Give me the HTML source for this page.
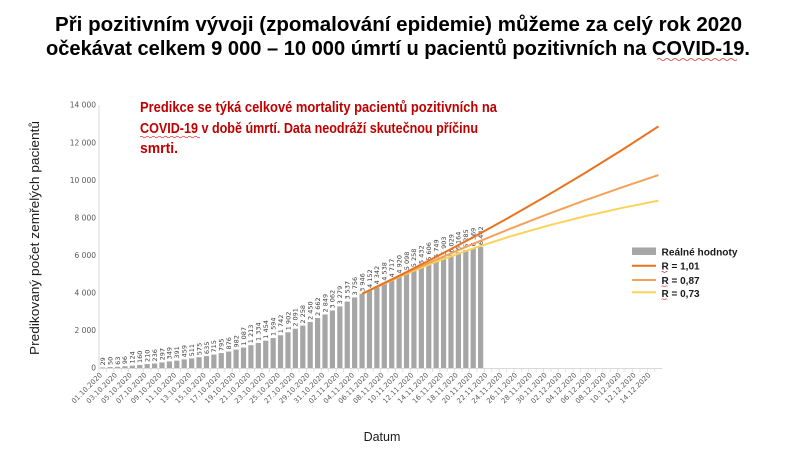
<!DOCTYPE html>
<html>
<head>
<meta charset="utf-8">
<style>
  html,body{margin:0;padding:0;background:#fff;}
  svg{display:block;}
  .tk{font-family:"DejaVu Sans",sans-serif;font-size:7.5px;fill:#595959;}
  .xl{font-family:"DejaVu Sans",sans-serif;font-size:7px;fill:#595959;}
  .dl{font-family:"DejaVu Sans",sans-serif;font-size:6.5px;fill:#404040;}
  .tt{font-family:"Liberation Sans",sans-serif;font-weight:bold;font-size:20px;fill:#000;}
  .rd{font-family:"Liberation Sans",sans-serif;font-weight:bold;font-size:14.5px;fill:#C00000;}
  .lg{font-family:"Liberation Sans",sans-serif;font-weight:bold;font-size:10px;fill:#1a1a1a;}
  .ax{font-family:"Liberation Sans",sans-serif;font-size:12.5px;fill:#1a1a1a;}
</style>
</head>
<body>
<svg width="800" height="450" viewBox="0 0 800 450" xmlns="http://www.w3.org/2000/svg">
<rect width="800" height="450" fill="#fff"/>

<!-- Title -->
<text class="tt" x="55" y="31" textLength="687" lengthAdjust="spacingAndGlyphs">Při pozitivním vývoji (zpomalování epidemie) můžeme za celý rok 2020</text>
<text class="tt" x="46" y="55" textLength="704" lengthAdjust="spacingAndGlyphs">očekávat celkem 9 000 – 10 000 úmrtí u pacientů pozitivních na COVID-19.</text>
<path d="M657,59.5 q2,-2 4,0 t4,0 t4,0 t4,0 t4,0 t4,0 t4,0 t4,0 t4,0 t4,0 t4,0 t4,0 t4,0 t4,0 t4,0 t4,0 t4,0 t4,0 t4,0 t4,0" fill="none" stroke="#d33" stroke-width="0.8"/>

<!-- Red note -->
<text class="rd" x="140" y="112" textLength="357" lengthAdjust="spacingAndGlyphs">Predikce se týká celkové mortality pacientů pozitivních na</text>
<text class="rd" x="140" y="133" textLength="338" lengthAdjust="spacingAndGlyphs">COVID-19 v době úmrtí. Data neodráží skutečnou příčinu</text>
<text class="rd" x="140" y="153" textLength="38" lengthAdjust="spacingAndGlyphs">smrti.</text>
<path d="M140,137 q1.5,-1.5 3,0 t3,0 t3,0 t3,0 t3,0 t3,0 t3,0 t3,0 t3,0 t3,0 t3,0 t3,0 t3,0 t3,0 t3,0 t3,0 t3,0 t3,0 t3,0 t3,0" fill="none" stroke="#d33" stroke-width="0.7"/>

<!-- Axes -->
<line x1="99" y1="105" x2="99" y2="368" stroke="#d9d9d9" stroke-width="1"/>
<line x1="99" y1="368.5" x2="662" y2="368.5" stroke="#d9d9d9" stroke-width="1"/>
<path stroke="#d9d9d9" stroke-width="0.8" fill="none" d="M99,368v4m7.41,-4v4m7.41,-4v4m7.41,-4v4m7.41,-4v4m7.41,-4v4m7.41,-4v4m7.41,-4v4m7.41,-4v4m7.41,-4v4m7.41,-4v4m7.41,-4v4m7.41,-4v4m7.41,-4v4m7.41,-4v4m7.41,-4v4m7.41,-4v4m7.41,-4v4m7.41,-4v4m7.41,-4v4m7.41,-4v4m7.41,-4v4m7.41,-4v4m7.41,-4v4m7.41,-4v4m7.41,-4v4m7.41,-4v4m7.41,-4v4m7.41,-4v4m7.41,-4v4m7.41,-4v4m7.41,-4v4m7.41,-4v4m7.41,-4v4m7.41,-4v4m7.41,-4v4m7.41,-4v4m7.41,-4v4m7.41,-4v4m7.41,-4v4m7.41,-4v4m7.41,-4v4m7.41,-4v4m7.41,-4v4m7.41,-4v4m7.41,-4v4m7.41,-4v4m7.41,-4v4m7.41,-4v4m7.41,-4v4m7.41,-4v4m7.41,-4v4m7.41,-4v4m7.41,-4v4m7.41,-4v4m7.41,-4v4m7.41,-4v4m7.41,-4v4m7.41,-4v4m7.41,-4v4m7.41,-4v4m7.41,-4v4m7.41,-4v4m7.41,-4v4m7.41,-4v4m7.41,-4v4m7.41,-4v4m7.41,-4v4m7.41,-4v4m7.41,-4v4m7.41,-4v4m7.41,-4v4m7.41,-4v4m7.41,-4v4m7.41,-4v4m7.41,-4v4"/>

<!-- Y tick labels -->
<g class="tk" text-anchor="end">
<text x="96" y="370.7">0</text>
<text x="96" y="333.1">2 000</text>
<text x="96" y="295.6">4 000</text>
<text x="96" y="258.0">6 000</text>
<text x="96" y="220.4">8 000</text>
<text x="96" y="182.8">10 000</text>
<text x="96" y="145.3">12 000</text>
<text x="96" y="107.7">14 000</text>
</g>

<!-- Axis titles -->
<text class="ax" transform="translate(39,238) rotate(-90)" text-anchor="middle" textLength="234" lengthAdjust="spacingAndGlyphs">Predikovaný počet zemřelých pacientů</text>
<text class="ax" x="382" y="441" text-anchor="middle">Datum</text>

<!-- Bars (data units) -->
<g transform="translate(0,368) scale(1,-0.018786)" fill="#A6A6A6">
<rect x="100.11" y="0" width="5.2" height="29"/>
<rect x="107.52" y="0" width="5.2" height="50"/>
<rect x="114.93" y="0" width="5.2" height="63"/>
<rect x="122.34" y="0" width="5.2" height="96"/>
<rect x="129.75" y="0" width="5.2" height="124"/>
<rect x="137.16" y="0" width="5.2" height="160"/>
<rect x="144.57" y="0" width="5.2" height="210"/>
<rect x="151.98" y="0" width="5.2" height="236"/>
<rect x="159.39" y="0" width="5.2" height="297"/>
<rect x="166.80" y="0" width="5.2" height="349"/>
<rect x="174.21" y="0" width="5.2" height="391"/>
<rect x="181.62" y="0" width="5.2" height="459"/>
<rect x="189.03" y="0" width="5.2" height="511"/>
<rect x="196.44" y="0" width="5.2" height="575"/>
<rect x="203.85" y="0" width="5.2" height="635"/>
<rect x="211.26" y="0" width="5.2" height="715"/>
<rect x="218.67" y="0" width="5.2" height="795"/>
<rect x="226.08" y="0" width="5.2" height="876"/>
<rect x="233.49" y="0" width="5.2" height="982"/>
<rect x="240.90" y="0" width="5.2" height="1087"/>
<rect x="248.31" y="0" width="5.2" height="1213"/>
<rect x="255.72" y="0" width="5.2" height="1334"/>
<rect x="263.13" y="0" width="5.2" height="1454"/>
<rect x="270.54" y="0" width="5.2" height="1594"/>
<rect x="277.95" y="0" width="5.2" height="1742"/>
<rect x="285.36" y="0" width="5.2" height="1902"/>
<rect x="292.77" y="0" width="5.2" height="2091"/>
<rect x="300.18" y="0" width="5.2" height="2258"/>
<rect x="307.59" y="0" width="5.2" height="2450"/>
<rect x="315.00" y="0" width="5.2" height="2662"/>
<rect x="322.41" y="0" width="5.2" height="2849"/>
<rect x="329.82" y="0" width="5.2" height="3062"/>
<rect x="337.23" y="0" width="5.2" height="3279"/>
<rect x="344.64" y="0" width="5.2" height="3537"/>
<rect x="352.05" y="0" width="5.2" height="3756"/>
<rect x="359.46" y="0" width="5.2" height="3946"/>
<rect x="366.87" y="0" width="5.2" height="4152"/>
<rect x="374.28" y="0" width="5.2" height="4342"/>
<rect x="381.69" y="0" width="5.2" height="4538"/>
<rect x="389.10" y="0" width="5.2" height="4717"/>
<rect x="396.51" y="0" width="5.2" height="4920"/>
<rect x="403.92" y="0" width="5.2" height="5098"/>
<rect x="411.33" y="0" width="5.2" height="5258"/>
<rect x="418.74" y="0" width="5.2" height="5432"/>
<rect x="426.15" y="0" width="5.2" height="5606"/>
<rect x="433.56" y="0" width="5.2" height="5749"/>
<rect x="440.97" y="0" width="5.2" height="5903"/>
<rect x="448.38" y="0" width="5.2" height="6029"/>
<rect x="455.79" y="0" width="5.2" height="6164"/>
<rect x="463.20" y="0" width="5.2" height="6285"/>
<rect x="470.61" y="0" width="5.2" height="6369"/>
<rect x="478.02" y="0" width="5.2" height="6442"/>
</g>

<!-- Data labels -->
<g class="dl">
<text transform="translate(105.01,365.46) rotate(-90)">29</text>
<text transform="translate(112.42,365.06) rotate(-90)">50</text>
<text transform="translate(119.83,364.82) rotate(-90)">63</text>
<text transform="translate(127.24,364.20) rotate(-90)">96</text>
<text transform="translate(134.65,363.67) rotate(-90)">124</text>
<text transform="translate(142.06,362.99) rotate(-90)">160</text>
<text transform="translate(149.47,362.05) rotate(-90)">210</text>
<text transform="translate(156.88,361.57) rotate(-90)">236</text>
<text transform="translate(164.29,360.42) rotate(-90)">297</text>
<text transform="translate(171.70,359.44) rotate(-90)">349</text>
<text transform="translate(179.11,358.65) rotate(-90)">391</text>
<text transform="translate(186.52,357.38) rotate(-90)">459</text>
<text transform="translate(193.93,356.40) rotate(-90)">511</text>
<text transform="translate(201.34,355.20) rotate(-90)">575</text>
<text transform="translate(208.75,354.07) rotate(-90)">635</text>
<text transform="translate(216.16,352.57) rotate(-90)">715</text>
<text transform="translate(223.57,351.07) rotate(-90)">795</text>
<text transform="translate(230.98,349.54) rotate(-90)">876</text>
<text transform="translate(238.39,347.55) rotate(-90)">982</text>
<text transform="translate(245.80,345.58) rotate(-90)">1 087</text>
<text transform="translate(253.21,343.21) rotate(-90)">1 213</text>
<text transform="translate(260.62,340.94) rotate(-90)">1 334</text>
<text transform="translate(268.03,338.69) rotate(-90)">1 454</text>
<text transform="translate(275.44,336.06) rotate(-90)">1 594</text>
<text transform="translate(282.85,333.27) rotate(-90)">1 742</text>
<text transform="translate(290.26,330.27) rotate(-90)">1 902</text>
<text transform="translate(297.67,326.72) rotate(-90)">2 091</text>
<text transform="translate(305.08,323.58) rotate(-90)">2 258</text>
<text transform="translate(312.49,319.97) rotate(-90)">2 450</text>
<text transform="translate(319.90,315.99) rotate(-90)">2 662</text>
<text transform="translate(327.31,312.48) rotate(-90)">2 849</text>
<text transform="translate(334.72,308.48) rotate(-90)">3 062</text>
<text transform="translate(342.13,304.40) rotate(-90)">3 279</text>
<text transform="translate(349.54,299.55) rotate(-90)">3 537</text>
<text transform="translate(356.95,295.44) rotate(-90)">3 756</text>
<text transform="translate(364.36,291.87) rotate(-90)">3 946</text>
<text transform="translate(371.77,288.00) rotate(-90)">4 152</text>
<text transform="translate(379.18,284.43) rotate(-90)">4 342</text>
<text transform="translate(386.59,280.75) rotate(-90)">4 538</text>
<text transform="translate(394.00,277.39) rotate(-90)">4 717</text>
<text transform="translate(401.41,273.57) rotate(-90)">4 920</text>
<text transform="translate(408.82,270.23) rotate(-90)">5 098</text>
<text transform="translate(416.23,267.22) rotate(-90)">5 258</text>
<text transform="translate(423.64,263.95) rotate(-90)">5 432</text>
<text transform="translate(431.05,260.69) rotate(-90)">5 606</text>
<text transform="translate(438.46,258.00) rotate(-90)">5 749</text>
<text transform="translate(445.87,255.11) rotate(-90)">5 903</text>
<text transform="translate(453.28,252.74) rotate(-90)">6 029</text>
<text transform="translate(460.69,250.20) rotate(-90)">6 164</text>
<text transform="translate(468.10,247.93) rotate(-90)">6 285</text>
<text transform="translate(475.51,246.35) rotate(-90)">6 369</text>
<text transform="translate(482.92,244.98) rotate(-90)">6 442</text>
</g>

<!-- Projection lines -->
<polyline fill="none" stroke="#FAD45A" stroke-width="2" stroke-linejoin="round" points="362.06,293.87 399.11,276.84 436.16,261.72 473.21,248.30 510.26,236.38 547.31,225.80 584.36,216.40 621.41,208.06 658.46,200.65"/>
<polyline fill="none" stroke="#F4A25B" stroke-width="2" stroke-linejoin="round" points="362.06,293.87 399.11,276.37 436.16,259.70 473.21,243.82 510.26,228.69 547.31,214.29 584.36,200.58 621.41,187.51 658.46,175.07"/>
<polyline fill="none" stroke="#E8731F" stroke-width="2" stroke-linejoin="round" points="362.06,293.87 399.11,275.74 436.16,256.86 473.21,237.23 510.26,216.79 547.31,195.53 584.36,173.40 621.41,150.36 658.46,126.37"/>

<!-- X labels -->
<g class="xl" text-anchor="end">
<text transform="translate(102.71,375.5) rotate(-45)">01.10.2020</text>
<text transform="translate(117.53,375.5) rotate(-45)">03.10.2020</text>
<text transform="translate(132.35,375.5) rotate(-45)">05.10.2020</text>
<text transform="translate(147.17,375.5) rotate(-45)">07.10.2020</text>
<text transform="translate(161.99,375.5) rotate(-45)">09.10.2020</text>
<text transform="translate(176.81,375.5) rotate(-45)">11.10.2020</text>
<text transform="translate(191.63,375.5) rotate(-45)">13.10.2020</text>
<text transform="translate(206.45,375.5) rotate(-45)">15.10.2020</text>
<text transform="translate(221.27,375.5) rotate(-45)">17.10.2020</text>
<text transform="translate(236.09,375.5) rotate(-45)">19.10.2020</text>
<text transform="translate(250.91,375.5) rotate(-45)">21.10.2020</text>
<text transform="translate(265.73,375.5) rotate(-45)">23.10.2020</text>
<text transform="translate(280.55,375.5) rotate(-45)">25.10.2020</text>
<text transform="translate(295.37,375.5) rotate(-45)">27.10.2020</text>
<text transform="translate(310.19,375.5) rotate(-45)">29.10.2020</text>
<text transform="translate(325.01,375.5) rotate(-45)">31.10.2020</text>
<text transform="translate(339.83,375.5) rotate(-45)">02.11.2020</text>
<text transform="translate(354.65,375.5) rotate(-45)">04.11.2020</text>
<text transform="translate(369.47,375.5) rotate(-45)">06.11.2020</text>
<text transform="translate(384.29,375.5) rotate(-45)">08.11.2020</text>
<text transform="translate(399.11,375.5) rotate(-45)">10.11.2020</text>
<text transform="translate(413.93,375.5) rotate(-45)">12.11.2020</text>
<text transform="translate(428.75,375.5) rotate(-45)">14.11.2020</text>
<text transform="translate(443.57,375.5) rotate(-45)">16.11.2020</text>
<text transform="translate(458.39,375.5) rotate(-45)">18.11.2020</text>
<text transform="translate(473.21,375.5) rotate(-45)">20.11.2020</text>
<text transform="translate(488.03,375.5) rotate(-45)">22.11.2020</text>
<text transform="translate(502.85,375.5) rotate(-45)">24.11.2020</text>
<text transform="translate(517.67,375.5) rotate(-45)">26.11.2020</text>
<text transform="translate(532.49,375.5) rotate(-45)">28.11.2020</text>
<text transform="translate(547.31,375.5) rotate(-45)">30.11.2020</text>
<text transform="translate(562.13,375.5) rotate(-45)">02.12.2020</text>
<text transform="translate(576.95,375.5) rotate(-45)">04.12.2020</text>
<text transform="translate(591.77,375.5) rotate(-45)">06.12.2020</text>
<text transform="translate(606.59,375.5) rotate(-45)">08.12.2020</text>
<text transform="translate(621.41,375.5) rotate(-45)">10.12.2020</text>
<text transform="translate(636.23,375.5) rotate(-45)">12.12.2020</text>
<text transform="translate(651.05,375.5) rotate(-45)">14.12.2020</text>
</g>

<!-- Legend -->
<rect x="632" y="247.5" width="24" height="7.5" fill="#A6A6A6"/>
<text class="lg" x="661.5" y="255.5" textLength="76" lengthAdjust="spacingAndGlyphs">Reálné hodnoty</text>
<line x1="632" y1="265.7" x2="656" y2="265.7" stroke="#E8731F" stroke-width="2"/>
<text class="lg" x="661.5" y="269.5">R = 1,01</text>
<line x1="632" y1="280" x2="656" y2="280" stroke="#F4A25B" stroke-width="2"/>
<text class="lg" x="661.5" y="283.8">R = 0,87</text>
<line x1="632" y1="292.3" x2="656" y2="292.3" stroke="#FAD45A" stroke-width="2"/>
<text class="lg" x="661.5" y="296.8">R = 0,73</text>
<path d="M661.5,272 q1,-1 2,0 t2,0 t2,0 M661.5,286.3 q1,-1 2,0 t2,0 t2,0 M661.5,299.3 q1,-1 2,0 t2,0 t2,0" fill="none" stroke="#d33" stroke-width="0.6"/>
</svg>
</body>
</html>
